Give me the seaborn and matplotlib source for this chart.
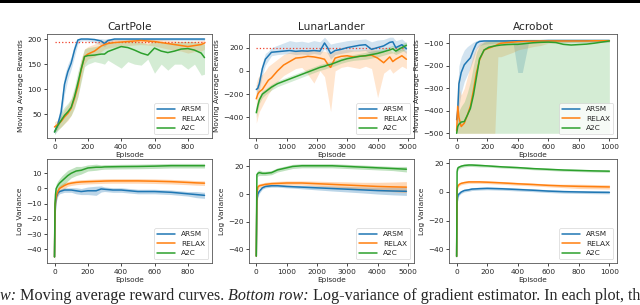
import matplotlib
matplotlib.use("Agg")
import matplotlib.pyplot as plt
import seaborn as sns

# ---------------- data ----------------
methods = ["ARSM", "RELAX", "A2C"]

# top row: moving average rewards (mean, lower, upper)
cp_x = [0, 20, 40, 60, 80, 100, 120, 140, 160, 180, 200, 240, 280, 300, 320,
        360, 400, 440, 480, 520, 560, 600, 640, 680, 720, 760, 800, 840, 880, 900]
cp_arsm = [15, 30, 55, 110, 135, 152, 178, 198, 200, 200, 200, 199, 196, 191, 197,
           200, 200, 200, 200, 200, 200, 200, 200, 200, 200, 200, 200, 200, 200, 200]
cp_arsm_lo = [10, 22, 40, 90, 120, 140, 165, 190, 196, 197, 196, 193, 188, 185, 192,
              197, 197, 197, 197, 197, 197, 197, 197, 197, 197, 197, 197, 197, 197, 197]
cp_arsm_hi = [22, 40, 75, 128, 150, 165, 190, 200, 201, 201, 201, 201, 201, 200, 201,
              201, 201, 201, 201, 201, 201, 201, 201, 201, 201, 201, 201, 201, 201, 201]
cp_relax = [25, 30, 36, 45, 52, 62, 82, 105, 139, 165, 170, 176, 186, 189, 191,
            193, 194, 195, 196, 197, 196, 195, 193, 191, 189, 187, 185, 187, 189, 192]
cp_relax_lo = [15, 20, 25, 32, 38, 48, 65, 85, 120, 150, 160, 165, 175, 180, 182,
               184, 186, 187, 188, 189, 188, 186, 183, 180, 178, 176, 172, 175, 176, 180]
cp_relax_hi = [35, 40, 48, 60, 68, 80, 100, 125, 158, 180, 185, 190, 196, 198, 199,
               199, 199, 200, 200, 200, 200, 200, 199, 198, 197, 196, 195, 196, 197, 198]
cp_a2c = [15, 28, 38, 48, 55, 64, 85, 112, 140, 165, 167, 168, 170, 170, 175,
          180, 185, 183, 178, 172, 168, 182, 176, 173, 176, 180, 181, 178, 172, 163]
cp_a2c_lo = [10, 18, 25, 32, 40, 48, 62, 85, 115, 145, 150, 155, 152, 150, 158,
             150, 142, 155, 150, 148, 160, 132, 150, 138, 150, 150, 140, 150, 128, 130]
cp_a2c_hi = [22, 40, 55, 65, 72, 82, 105, 135, 160, 180, 183, 185, 188, 190, 193,
             195, 196, 196, 195, 194, 190, 196, 194, 192, 194, 195, 196, 195, 192, 190]
cp_target = [195, 195]
cp_target_x = [0, 900]

ll_x = [0, 50, 100, 200, 300, 400, 500, 700, 900, 1100, 1300, 1500, 1700, 1900, 2100, 2250,
        2350, 2450, 2600, 2800, 3000, 3200, 3400, 3600, 3800, 4000, 4200, 4400, 4500, 4600, 4800, 4950]
ll_arsm = [-160, -150, -110, 20, 100, 130, 160, 165, 170, 175, 168, 172, 170, 175, 170, 240,
           200, 150, 175, 185, 200, 210, 220, 225, 185, 200, 215, 245, 250, 200, 225, 190]
ll_arsm_lo = [-200, -190, -160, -40, 50, 90, 130, 140, 145, 150, 140, 145, 140, 150, 140, 190,
              150, 100, 140, 150, 160, 170, 170, 175, 140, 150, 160, 200, 210, 160, 180, 150]
ll_arsm_hi = [-120, -110, -60, 70, 150, 170, 200, 220, 240, 260, 250, 255, 245, 260, 250, 290,
              260, 230, 240, 250, 260, 265, 270, 275, 250, 265, 270, 290, 290, 260, 275, 240]
ll_relax = [-240, -200, -180, -160, -120, -80, -60, 0, 50, 80, 110, 115, 125, 120, 110, 100,
            60, 30, 110, 125, 130, 120, 125, 130, 135, 110, 70, 120, 80, 100, 130, 100]
ll_relax_lo = [-450, -400, -350, -300, -250, -200, -160, -90, -40, -10, 20, 30, -30, -105, 0, -50,
               -200, -350, 0, 30, 40, 30, 20, 40, 20, -230, -20, 20, -20, 0, 40, 20]
ll_relax_hi = [-100, -60, -40, -30, 0, 40, 60, 100, 140, 160, 170, 175, 180, 175, 170, 170,
               160, 150, 170, 180, 185, 180, 180, 185, 190, 180, 160, 180, 160, 170, 190, 170]
ll_a2c = [-360, -300, -250, -200, -180, -160, -140, -110, -90, -70, -50, -30, -10, 10, 30, 40,
          50, 55, 70, 90, 105, 115, 125, 130, 140, 150, 165, 180, 190, 170, 200, 220]
ll_a2c_lo = [-400, -340, -280, -230, -205, -185, -165, -135, -115, -95, -75, -55, -35, -15, 5, 15,
             25, 30, 45, 65, 80, 90, 95, 100, 110, 120, 135, 150, 155, 140, 165, 190]
ll_a2c_hi = [-300, -250, -220, -170, -155, -135, -115, -85, -65, -45, -25, -5, 15, 35, 55, 65,
             75, 80, 95, 115, 130, 140, 150, 160, 170, 180, 195, 210, 220, 205, 235, 250]
ll_target = [200, 200]
ll_target_x = [0, 4900]

ac_x = [0, 7, 15, 30, 50, 70, 90, 110, 130, 150, 180, 210, 250, 270, 290, 330,
        370, 400, 430, 470, 500, 550, 600, 650, 700, 750, 800, 850, 900, 950, 1000]
ac_arsm = [-440, -400, -280, -230, -196, -180, -165, -130, -100, -92, -90, -90, -90, -90, -90, -90,
           -89, -89, -89, -89, -89, -89, -88, -88, -88, -88, -88, -88, -88, -88, -88]
ac_arsm_lo = [-500, -480, -380, -320, -270, -240, -210, -170, -125, -110, -105, -102, -100, -100, -100, -100,
              -100, -230, -230, -100, -98, -97, -96, -96, -96, -96, -96, -96, -96, -96, -95]
ac_arsm_hi = [-420, -300, -200, -160, -130, -115, -105, -95, -88, -85, -84, -84, -84, -84, -84, -84,
              -84, -84, -84, -84, -84, -84, -83, -83, -83, -83, -83, -83, -83, -83, -83]
ac_relax = [-490, -380, -430, -470, -455, -420, -380, -310, -230, -174, -130, -122, -112, -105, -100, -97,
            -95, -93, -92, -91, -91, -90, -90, -90, -90, -90, -90, -90, -89, -89, -89]
ac_relax_lo = [-500, -500, -500, -500, -500, -500, -500, -500, -500, -500, -500, -500, -500, -160, -160, -150,
               -140, -130, -125, -120, -115, -110, -100, -98, -97, -96, -95, -95, -95, -95, -95]
ac_relax_hi = [-420, -250, -300, -330, -300, -250, -200, -150, -120, -100, -92, -88, -86, -86, -86, -85,
               -85, -85, -85, -85, -85, -85, -85, -85, -85, -85, -85, -85, -85, -85, -85]
ac_a2c = [-500, -470, -460, -450, -448, -420, -390, -330, -250, -170, -130, -118, -112, -110, -108, -106,
          -105, -105, -103, -100, -98, -96, -95, -97, -105, -108, -106, -104, -100, -95, -90]
ac_a2c_lo = [-500] * len(ac_x)
ac_a2c_hi = [-480, -430, -400, -380, -360, -320, -270, -200, -140, -110, -95, -88, -85, -84, -84, -83,
             -83, -83, -83, -82, -82, -82, -82, -82, -82, -82, -82, -82, -82, -82, -82]

# bottom row: log variance (mean, spread)
cpv_x = [0, 3, 6, 10, 20, 30, 45, 60, 80, 100, 130, 160, 200, 250, 280, 300, 350, 400, 500, 600, 700, 800, 850, 900]
cpv_arsm = [-45, -20, -10, -6, -3, -2, -1.5, -1, -1, -1, -1.5, -2, -1.5, -1.5, -0.3, -0.5, -1, -1, -2, -2, -2.5, -3.5, -4, -4.5]
cpv_arsm_sd = [5, 5, 4, 3, 2, 1.5, 1.5, 1.5, 1.5, 1.5, 2, 2, 2.5, 3, 2, 1.5, 1.5, 1.5, 1.5, 1.5, 1.5, 1.5, 2, 2]
cpv_relax = [-45, -15, -8, -5, -2, 0, 1, 2, 3, 3.5, 4, 4.3, 4.5, 4.7, 4.8, 4.9, 5, 5, 5, 4.8, 4.5, 4, 3.7, 3.5]
cpv_relax_sd = [5, 5, 4, 3, 2.5, 2, 2, 2, 1.5, 1.5, 1.5, 1.5, 1.5, 1.5, 1.5, 1.5, 1.5, 1.5, 1.5, 1.5, 1.5, 1.5, 1.5, 1.5]
cpv_a2c = [-45, -10, -4, 0, 2, 3.5, 5, 6.5, 8.5, 10, 11.5, 12, 13.5, 14, 14, 14.2, 14.3, 14.4, 14.5, 14.7, 15, 15, 15, 15]
cpv_a2c_sd = [5, 5, 4, 3, 3, 3, 3.5, 3.5, 3.5, 3, 3, 2.5, 2, 2, 1.5, 1.5, 1.5, 1.5, 1.5, 1.5, 1.5, 1.5, 1.5, 1.5]

llv_x = [0, 20, 50, 100, 200, 300, 500, 700, 1000, 1200, 1500, 2000, 2500, 3000, 3500, 4000, 4500, 4950]
llv_arsm = [-45, -5, 0, 2, 4.5, 5.5, 6, 6, 5.5, 5.3, 5, 4.5, 4, 3.5, 3, 2.5, 2.2, 2]
llv_arsm_sd = [5, 4, 2, 1.5, 1, 1, 1, 1, 1, 1, 1.2, 1.5, 1.8, 2, 2.2, 2.5, 2.8, 3]
llv_relax = [-45, 0, 5, 6, 6.5, 7, 7.5, 7.7, 8, 8, 8, 7.5, 7, 6.5, 6, 5.5, 5.2, 5]
llv_relax_sd = [5, 3, 2, 1.5, 1.5, 1.5, 1.5, 1.5, 1.5, 1.5, 1.5, 1.8, 2, 2.3, 2.5, 3, 3.5, 4]
llv_a2c = [-45, 14, 15, 15.5, 15, 15, 15.5, 17.5, 19, 20, 20.5, 20.5, 20.5, 20, 19.5, 19, 18.5, 18]
llv_a2c_sd = [5, 2, 2, 2, 1.5, 1.5, 1.5, 1.5, 1.5, 1.5, 1.5, 1.5, 1.5, 1.5, 1.5, 1.5, 1.5, 2]

acv_x = [0, 3, 6, 10, 20, 30, 50, 80, 100, 150, 200, 300, 400, 500, 600, 700, 800, 900, 1000]
acv_arsm = [-45, -8, -4, -2, -1, 0, 1, 1.5, 2, 2.3, 2.5, 2.2, 1.7, 1.2, 0.6, 0.2, 0, -0.2, -0.3]
acv_arsm_sd = [5, 3, 2, 1.5, 1, 1, 1, 1, 1, 1, 1, 1, 1, 1, 1, 1, 1, 1, 1]
acv_relax = [-45, 2, 3.5, 4.5, 5.5, 6, 6.5, 7, 7, 7, 6.8, 6.3, 5.7, 5.2, 4.6, 4.2, 3.9, 3.7, 3.5]
acv_relax_sd = [5, 2, 1.5, 1, 1, 1, 1, 1, 1, 1, 1, 1, 1, 1, 1, 1.2, 1.5, 1.5, 1.5]
acv_a2c = [-45, 14, 16, 17, 17.5, 18, 18.5, 18.8, 18.8, 18.5, 18.2, 17.5, 17, 16.3, 15.8, 15.3, 15, 14.7, 14.5]
acv_a2c_sd = [5, 2, 1.5, 1.2, 1, 1, 1, 1, 1, 1, 0.8, 0.8, 0.8, 0.8, 0.8, 0.8, 0.8, 0.8, 0.8]

titles = ["CartPole", "LunarLander", "Acrobot"]
cp_xticks = [0, 200, 400, 600, 800]
ll_xticks = [0, 1000, 2000, 3000, 4000, 5000]
ac_xticks = [0, 200, 400, 600, 800, 1000]
cp_yticks = [50, 100, 150, 200]
ll_yticks = [-400, -200, 0, 200]
ac_yticks = [-500, -400, -300, -200, -100]
cpv_yticks = [-40, -30, -20, -10, 0, 10]
llv_yticks = [-40, -20, 0, 20]
acv_yticks = [-40, -20, 0, 20]

caption_parts = [("w: ", "italic"), ("Moving average reward curves. ", "normal"),
                 ("Bottom row:", "italic"),
                 (" Log-variance of gradient estimator. In each plot, th", "normal")]

# ---------------- drawing ----------------
sns.set_theme(style="ticks")
plt.rcParams.update({
    "font.family": ["DejaVu Sans"],
    "font.size": 5.3,
    "axes.titlesize": 7.6,
    "axes.labelsize": 5.3,
    "xtick.labelsize": 5.3,
    "ytick.labelsize": 5.3,
    "legend.fontsize": 5.3,
    "axes.linewidth": 0.6,
    "axes.edgecolor": "#555555",
    "xtick.major.size": 2.2,
    "ytick.major.size": 2.2,
    "xtick.major.width": 0.6,
    "ytick.major.width": 0.6,
    "xtick.major.pad": 1.8,
    "ytick.major.pad": 1.8,
    "axes.labelpad": 2,
})
colors = sns.color_palette("tab10")[:3]

fig = plt.figure(figsize=(6.4, 3.05), dpi=100)
H = 305.0
lefts = [47, 249, 449]
widths = [165, 165, 168]
tops = [34, 159]
ax_h = 104

top_panels = [
    (cp_x, [(cp_arsm, cp_arsm_lo, cp_arsm_hi), (cp_relax, cp_relax_lo, cp_relax_hi), (cp_a2c, cp_a2c_lo, cp_a2c_hi)],
     (cp_target_x, cp_target), cp_xticks, cp_yticks, (-45, 945), (3, 210)),
    (ll_x, [(ll_arsm, ll_arsm_lo, ll_arsm_hi), (ll_relax, ll_relax_lo, ll_relax_hi), (ll_a2c, ll_a2c_lo, ll_a2c_hi)],
     (ll_target_x, ll_target), ll_xticks, ll_yticks, (-240, 5200), (-577, 317)),
    (ac_x, [(ac_arsm, ac_arsm_lo, ac_arsm_hi), (ac_relax, ac_relax_lo, ac_relax_hi), (ac_a2c, ac_a2c_lo, ac_a2c_hi)],
     None, ac_xticks, ac_yticks, (-50, 1050), (-521, -59)),
]
bottom_panels = [
    (cpv_x, [(cpv_arsm, cpv_arsm_sd), (cpv_relax, cpv_relax_sd), (cpv_a2c, cpv_a2c_sd)],
     cp_xticks, cpv_yticks, (-45, 945), (-49, 19.4)),
    (llv_x, [(llv_arsm, llv_arsm_sd), (llv_relax, llv_relax_sd), (llv_a2c, llv_a2c_sd)],
     ll_xticks, llv_yticks, (-240, 5200), (-50, 25.4)),
    (acv_x, [(acv_arsm, acv_arsm_sd), (acv_relax, acv_relax_sd), (acv_a2c, acv_a2c_sd)],
     ac_xticks, acv_yticks, (-50, 1050), (-49.6, 23)),
]


def finish(ax, xticks, yticks, xlim, ylim, ylabel):
    ax.set_xticks(xticks)
    ax.set_yticks(yticks)
    ax.set_xlim(*xlim)
    ax.set_ylim(*ylim)
    ax.set_xlabel("Episode")
    ax.set_ylabel(ylabel)
    for s in ax.spines.values():
        s.set_visible(True)
    leg = ax.legend(loc="lower right", frameon=True, handlelength=2.5,
                    borderpad=0.4, labelspacing=0.45, fancybox=True)
    leg.get_frame().set_linewidth(0.5)


for i, (x, series, target, xt, yt, xl, yl) in enumerate(top_panels):
    ax = fig.add_axes([lefts[i] / 640, 1 - (tops[0] + ax_h) / H, widths[i] / 640, ax_h / H])
    if target is not None:
        ax.plot(target[0], target[1], linestyle=":", color="#f0402a", lw=0.9)
    for (m, lo, hi), c, name in zip(series, colors, methods):
        ax.fill_between(x, lo, hi, color=c, alpha=0.2, lw=0)
        sns.lineplot(x=x, y=m, ax=ax, color=c, lw=1.1, label=name)
    ax.set_title(titles[i], pad=3)
    finish(ax, xt, yt, xl, yl, "Moving Average Rewards")

for i, (x, series, xt, yt, xl, yl) in enumerate(bottom_panels):
    ax = fig.add_axes([lefts[i] / 640, 1 - (tops[1] + ax_h) / H, widths[i] / 640, ax_h / H])
    for (m, sd), c, name in zip(series, colors, methods):
        lo = [a - b for a, b in zip(m, sd)]
        hi = [a + b for a, b in zip(m, sd)]
        ax.fill_between(x, lo, hi, color=c, alpha=0.3, lw=0)
        sns.lineplot(x=x, y=m, ax=ax, color=c, lw=1.1, label=name)
    finish(ax, xt, yt, xl, yl, "Log Variance")

# page rule at the top edge
fig.add_artist(plt.Rectangle((0, 1 - 2.5 / H), 1, 2.5 / H, transform=fig.transFigure,
                             color="black", lw=0))

# caption line (cut off at the bottom of the crop)
renderer = fig.canvas.get_renderer()
xpos = 0.0
for txt, style in caption_parts:
    t = fig.text(xpos, 5 / H, txt, family=["Liberation Serif"], style=style,
                 fontsize=11.6, va="baseline", ha="left")
    bb = t.get_window_extent(renderer=renderer)
    xpos += bb.width / fig.bbox.width

fig.savefig("out.png", dpi=100)
